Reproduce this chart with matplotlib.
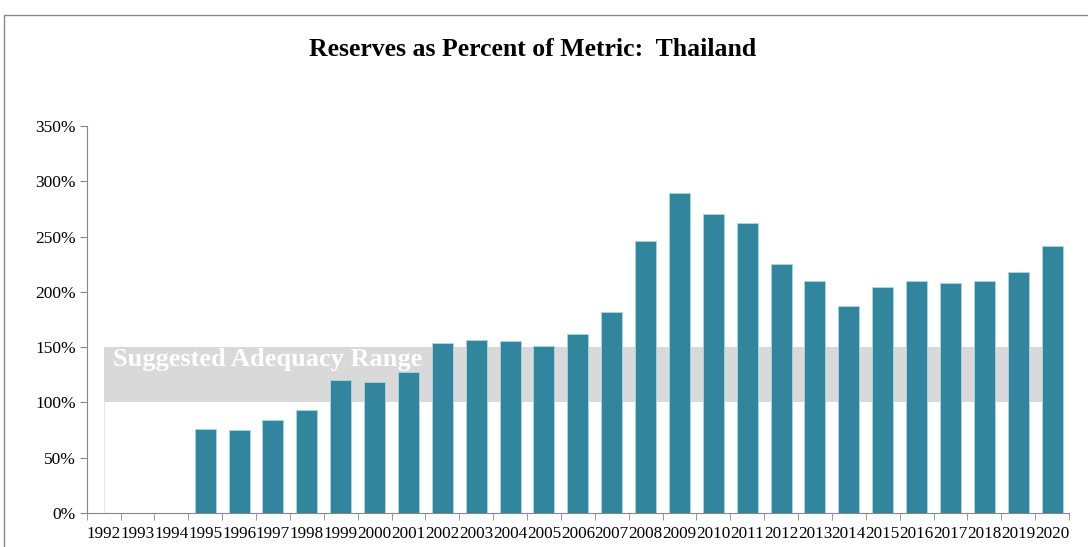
import matplotlib
matplotlib.use("Agg")
import matplotlib.pyplot as plt
import matplotlib.patches as mpatches
import numpy as np

years = [str(y) for y in range(1992, 2021)]
values = [0, 0, 0, 76.2, 74.8, 84.1, 93.2, 120.0, 118.2, 127.2, 154.0, 156.8, 155.8,
          151.0, 161.8, 181.5, 245.7, 289.4, 270.4, 262.6, 225.5, 209.5, 187.5,
          204.4, 209.5, 208.0, 209.8, 217.7, 241.2]
range_low = 100
range_high = 150
yticks = [0, 50, 100, 150, 200, 250, 300, 350]
title = "Reserves as Percent of Metric:  Thailand"
band_label = "Suggested Adequacy Range"

plt.rcParams['font.family'] = ['Liberation Serif', 'DejaVu Serif']

fig = plt.figure(figsize=(10.88, 5.47), dpi=100)
# outer border
fig.patches.append(mpatches.Rectangle((4/1088, -0.05), 1.2, 1 - 15/547 + 0.05,
                                      transform=fig.transFigure, fill=False,
                                      edgecolor='#888888', linewidth=1.0))

ax = fig.add_axes([86.7/1088, 1 - 513/547, (1069 - 86.7)/1088, (513 - 126)/547])
x = np.arange(len(years))

# adequacy band between first and last category centres
ax.fill_between([x[0], x[-1]], range_low, range_high, color='#D9D9D9', linewidth=0, zorder=1)
ax.plot([x[0], x[0]], [0, range_low], color='#E6E6E6', linewidth=0.8, zorder=1)

ax.bar(x, values, width=0.62, color='#31869D', edgecolor='#A9D8E3', linewidth=0.6, zorder=3)

ax.text(x[0] + 0.27, 139, band_label, color='white', fontsize=19, fontweight='bold',
        va='center', ha='left', zorder=2)

ax.set_xlim(-0.5, len(years) - 0.5)
ax.set_ylim(0, 350)
ax.set_yticks(yticks)
ax.set_yticklabels([f"{v}%" for v in yticks], fontsize=12.5)
ax.set_xticks(x)
ax.set_xticklabels(years, fontsize=12.3)
ax.tick_params(axis='x', length=0, pad=9)
ax.set_xticks(np.arange(-0.5, len(years)), minor=True)
ax.tick_params(axis='x', which='minor', length=5, color='#888888')
ax.tick_params(axis='y', length=5, color='#888888', pad=3)

for s in ['top', 'right']:
    ax.spines[s].set_visible(False)
ax.spines['left'].set_color('#888888')
ax.spines['bottom'].set_color('#888888')

fig.text(533/1088, 1 - 49/547, title, ha='center', va='center', fontsize=18.5,
         fontweight='bold')

fig.savefig('out.png', dpi=100)
